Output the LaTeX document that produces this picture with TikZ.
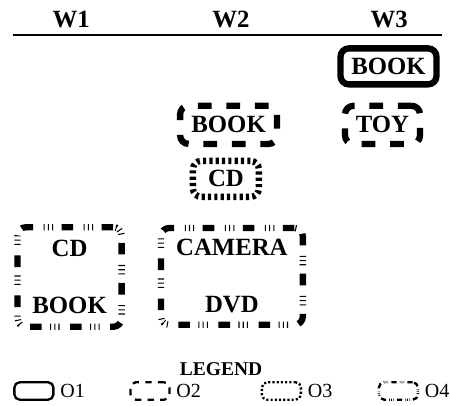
\documentclass[tikz,border=0pt]{standalone}
\usepackage{fontspec}
\setmainfont{Liberation Serif}
\usetikzlibrary{positioning}

\begin{document}
\begin{tikzpicture}[
  hd/.style={font=\bfseries\fontsize{23.5}{28}\selectfont},
  lbl/.style={font=\bfseries\fontsize{23.5}{28}\selectfont, align=center},
  obj/.style={draw, rounded corners=8pt, line width=6pt, inner sep=0pt},
  oa/.style={obj},
  ob/.style={obj, dash pattern=on 13pt off 14pt},
  oc/.style={obj, dash pattern=on 3pt off 3pt},
  od/.style={obj, dash pattern=on 11pt off 8pt on 1pt off 3pt on 1pt off 3pt on 1pt off 10pt},
  key/.style={draw, rounded corners=5pt, line width=2.2pt,
    minimum width=1.3cm, minimum height=0.58cm, inner sep=0pt},
  keytxt/.style={font=\fontsize{19}{23}\selectfont, right=2pt of #1}]

\useasboundingbox (0,0) rectangle (15,13.533);

% --- Column heads ---
\node[hd] (w1) at (2.37, 12.87) {W1};
\node[hd] (w2) at (7.7, 12.87) {W2};
\node[hd] (w3) at (12.97, 12.87) {W3};
\coordinate (rl) at (0.43, 12.37);
\coordinate (rr) at (14.73, 12.37);
\draw[line width=1.2pt] (rl) -- (rr);

% --- Objects ---
\node[oa, lbl, minimum width=3.2cm, minimum height=1.2cm]
  (book3) at (12.95, 11.32) {BOOK};
\node[ob, lbl, minimum width=3.23cm, minimum height=1.27cm]
  (book2) at (7.62, 9.37) {BOOK};
\node[ob, lbl, minimum width=2.5cm, minimum height=1.27cm]
  (toy3) at (12.75, 9.37) {TOY};
\node[oc, lbl, minimum width=2.2cm, minimum height=1.2cm]
  (cd2) at (7.53, 7.57) {CD};

% --- Grouped objects ---
\node[od, lbl, minimum width=3.47cm, minimum height=3.32cm]
  (grp1) at (2.32, 4.3) {CD\\[26pt]BOOK};
\node[od, lbl, minimum width=4.73cm, minimum height=3.23cm]
  (grp2) at (7.73, 4.32) {CAMERA\\[26pt]DVD};

% --- Legend ---
\node[font=\bfseries\fontsize{18.5}{22}\selectfont] (leg) at (7.37, 1.23) {LEGEND};
\node[key] (k1) at (1.13, 0.5) {};
\node[key, dash pattern=on 6pt off 6pt] (k2) at (5.0, 0.5) {};
\node[key, dash pattern=on 2pt off 2pt] (k3) at (9.38, 0.5) {};
\node[key, dash pattern=on 5pt off 3pt on 0.6pt off 1.2pt on 0.6pt off 1.2pt on 0.6pt off 3pt] (k4) at (13.28, 0.5) {};
\node[keytxt=k1] (t1) {O1};
\node[keytxt=k2] (t2) {O2};
\node[keytxt=k3] (t3) {O3};
\node[keytxt=k4] (t4) {O4};

\end{tikzpicture}
\end{document}
